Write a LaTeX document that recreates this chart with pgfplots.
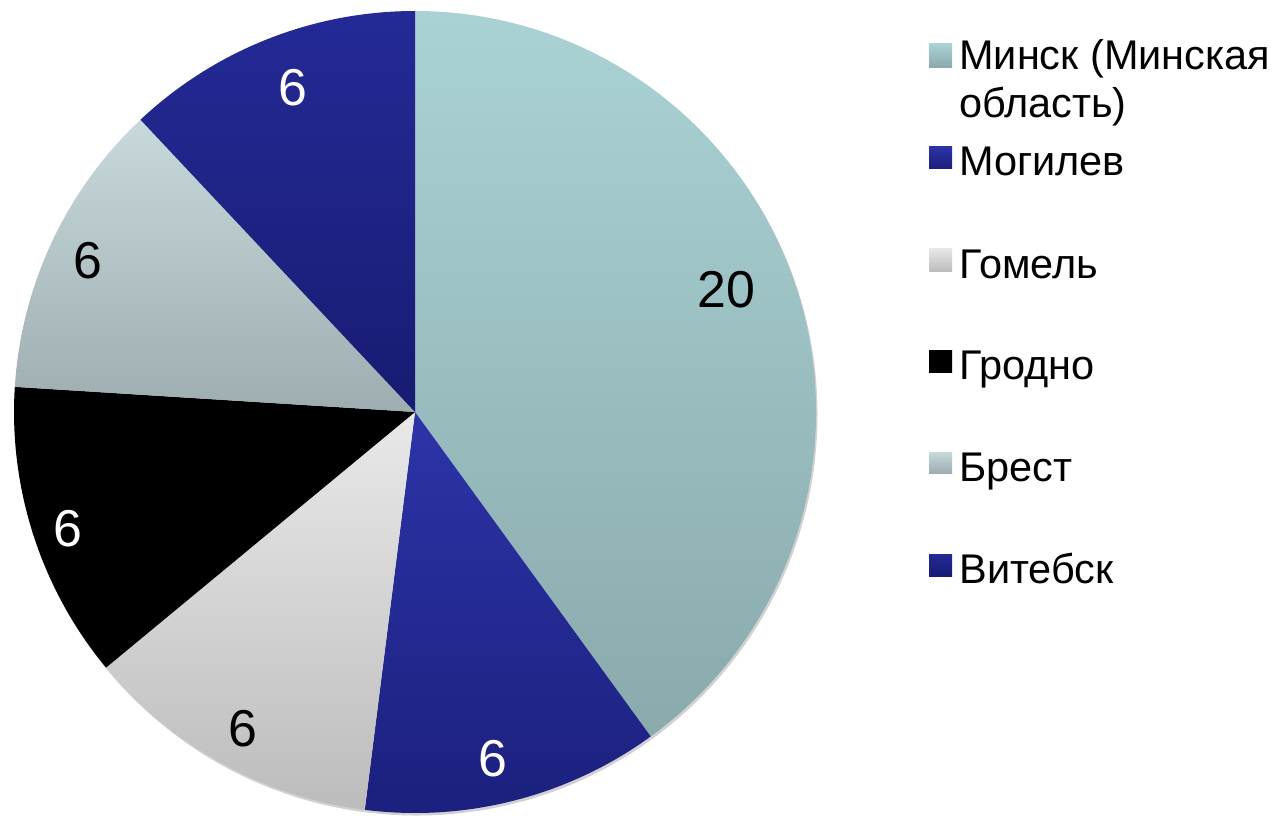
\documentclass[border=0pt]{standalone}
\usepackage{pgfplots}
\usepackage{pgfplotstable}
\pgfplotsset{compat=1.18}
\usepackage{fontspec}
\setmainfont{Liberation Sans}

% region, value, label radius (fraction of R), label angle offset (deg)
\pgfplotstableread{
region value lr lda
Minsk   20 0.835 3.4
Mogilev  6 0.885 -1.7
Gomel    6 0.898 0.2
Grodno   6 0.913 0.5
Brest    6 0.898 0.4
Vitebsk  6 0.865 -1.0
}\piedata

\definecolor{top0}{RGB}{170,210,213}\definecolor{bot0}{RGB}{138,170,172}
\definecolor{top1}{RGB}{44,52,168}\definecolor{bot1}{RGB}{27,31,124}
\definecolor{top2}{RGB}{233,233,233}\definecolor{bot2}{RGB}{188,188,188}
\definecolor{top3}{RGB}{0,0,0}\definecolor{bot3}{RGB}{0,0,0}
\definecolor{top4}{RGB}{200,217,219}\definecolor{bot4}{RGB}{158,174,176}
\definecolor{top5}{RGB}{36,42,150}\definecolor{bot5}{RGB}{24,27,114}
\colorlet{lab0}{black}\colorlet{lab1}{white}\colorlet{lab2}{black}
\colorlet{lab3}{white}\colorlet{lab4}{black}\colorlet{lab5}{white}

\def\R{8.02}

\begin{document}
\begin{tikzpicture}
% total
\xdef\pietotal{0}
\foreach \i in {0,...,5}{%
  \pgfplotstablegetelem{\i}{value}\of\piedata
  \pgfmathparse{\pietotal+\pgfplotsretval}\xdef\pietotal{\pgfmathresult}}
% angles
\xdef\piecum{0}
\foreach \i in {0,...,5}{%
  \pgfplotstablegetelem{\i}{value}\of\piedata
  \edef\curval{\pgfplotsretval}%
  \expandafter\xdef\csname pieval\i\endcsname{\curval}%
  \pgfmathparse{90-360*(\piecum/\pietotal)}\expandafter\xdef\csname piesa\i\endcsname{\pgfmathresult}%
  \pgfmathparse{\piecum+\curval}\xdef\piecum{\pgfmathresult}%
  \pgfmathparse{90-360*(\piecum/\pietotal)}\expandafter\xdef\csname pieea\i\endcsname{\pgfmathresult}%
  \pgfplotstablegetelem{\i}{lr}\of\piedata
  \expandafter\xdef\csname pielr\i\endcsname{\pgfplotsretval}%
  \pgfplotstablegetelem{\i}{lda}\of\piedata
  \expandafter\xdef\csname pielda\i\endcsname{\pgfplotsretval}%
}
\begin{axis}[
  x=1cm, y=1cm,
  xmin=-8.3, xmax=17.46, ymin=-8.1, ymax=8.24,
  hide axis, clip=false,
]
\coordinate (bbsw) at (axis cs:-8.3,-8.1);
\coordinate (bbne) at (axis cs:17.46,8.24);
% soft edge shadow
\fill[black!18] (axis cs:0.03,-0.05) circle[radius=\R];
\pgfplotsinvokeforeach{0,...,5}{
  \shade[top color=top#1, bottom color=bot#1]
    (axis cs:0,0) --
    (axis cs:{\R*cos(\csname piesa#1\endcsname)},{\R*sin(\csname piesa#1\endcsname)})
    arc[start angle=\csname piesa#1\endcsname, end angle=\csname pieea#1\endcsname, radius=\R]
    -- cycle;
  \node[text=lab#1, font=\fontsize{29.5}{35}\selectfont, anchor=center, inner sep=0pt]
    at (axis cs:{\csname pielr#1\endcsname*\R*cos((\csname piesa#1\endcsname+\csname pieea#1\endcsname)/2+\csname pielda#1\endcsname)},
                {\csname pielr#1\endcsname*\R*sin((\csname piesa#1\endcsname+\csname pieea#1\endcsname)/2+\csname pielda#1\endcsname)})
    {\csname pieval#1\endcsname};
}
% legend
\newcommand\legsq[3]{\shade[top color=top#1, bottom color=bot#1] (axis cs:10.28,{(412-#2)/50}) rectangle (axis cs:10.74,{(412-#3)/50});}
\legsq{0}{44}{67}
\legsq{1}{146}{168}
\legsq{2}{248}{271}
\legsq{3}{350}{372}
\legsq{4}{452}{473}
\legsq{5}{554}{576}
\tikzset{legtxt/.style={anchor=base west, inner sep=0pt, font=\fontsize{23.6}{28}\selectfont}}
\node[legtxt] at (axis cs:10.88,{(412-69)/50}) {Минск (Минская};
\node[legtxt] at (axis cs:10.88,{(412-117)/50}) {область)};
\node[legtxt] at (axis cs:10.88,{(412-175)/50}) {Могилев};
\node[legtxt] at (axis cs:10.88,{(412-278)/50}) {Гомель};
\node[legtxt] at (axis cs:10.88,{(412-379)/50}) {Гродно};
\node[legtxt] at (axis cs:10.88,{(412-481)/50}) {Брест};
\node[legtxt] at (axis cs:10.88,{(412-583)/50}) {Витебск};
\end{axis}
\pgfresetboundingbox
\useasboundingbox (bbsw) rectangle (bbne);
\end{tikzpicture}
\end{document}
